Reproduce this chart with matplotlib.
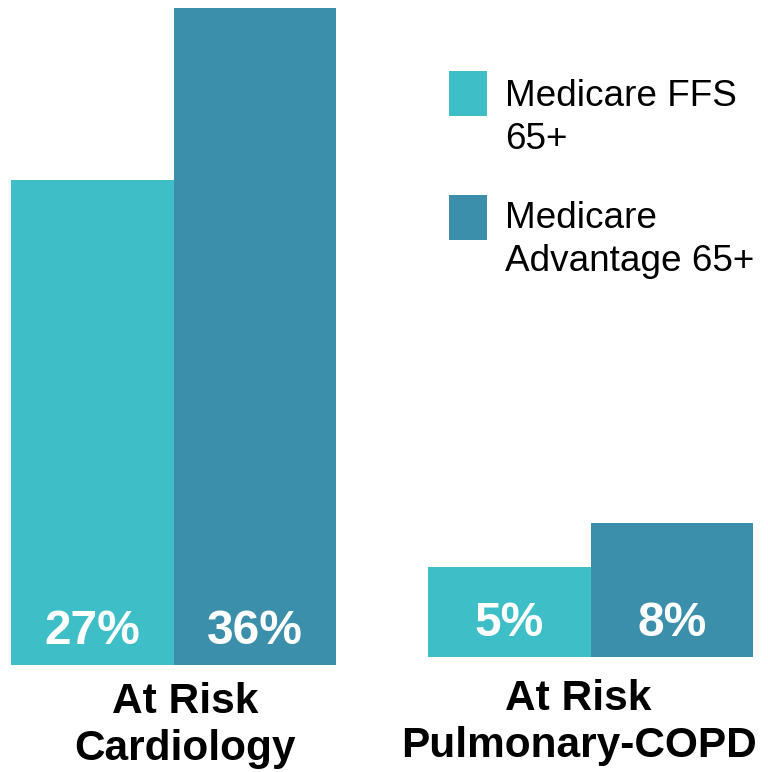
import matplotlib.pyplot as plt
from matplotlib.patches import Rectangle

plt.rcParams['font.family'] = ['Liberation Sans', 'DejaVu Sans']

# data
series = ['Medicare FFS\n65+', 'Medicare\nAdvantage 65+']
colors = ['#3EBFC8', '#3B8FAB']
cardio_vals = [26.6, 36.0]
copd_vals = [5.4, 8.0]
groups = ['At Risk\nCardiology', 'At Risk\nPulmonary-COPD']

W, H = 768, 772


def fx(x):
    return x / W


def fy(y):
    return 1 - y / H


fig = plt.figure(figsize=(W / 100, H / 100), dpi=100)

# two separate panels, like the original slide (each has its own scale)
ax1 = fig.add_axes([fx(11), fy(665), 325 / W, 657 / H])
ax1.set_ylim(0, 36.0)
ax2 = fig.add_axes([fx(428), fy(657), 325 / W, 649 / H])
ax2.set_ylim(0, 8.0 * 649 / 134)

for ax, vals, grp, off in [(ax1, cardio_vals, groups[0], (12, -17)),
                           (ax2, copd_vals, groups[1], (-12, -22))]:
    bars = ax.bar([0, 1], vals, width=1.0, color=colors, linewidth=0)
    ax.set_xlim(-0.5, 1.5)
    ax.axis('off')
    for b, v in zip(bars, vals):
        ax.annotate('{:.0f}%'.format(v), xy=(b.get_x() + b.get_width() / 2, 0),
                    xytext=(0, 21), textcoords='offset pixels',
                    ha='center', va='baseline', color='white',
                    fontsize=34.5, fontweight='bold')
    # group label under the bars
    ax.annotate(grp, xy=(0.5, 0), xytext=off, textcoords='offset pixels',
                ha='center', va='top', fontsize=30.5, fontweight='bold',
                linespacing=1.24, annotation_clip=False)

# legend drawn by hand
leg_y = [71, 195]
text_y = [79, 201]
for name, c, y, ty in zip(series, colors, leg_y, text_y):
    fig.add_artist(Rectangle((fx(449), fy(y + 45)), 38 / W, 45 / H,
                             transform=fig.transFigure, color=c, linewidth=0))
    fig.text(fx(505), fy(ty), name, ha='left', va='top', fontsize=26.6,
             linespacing=1.28)

fig.savefig('out.png', dpi=100)
